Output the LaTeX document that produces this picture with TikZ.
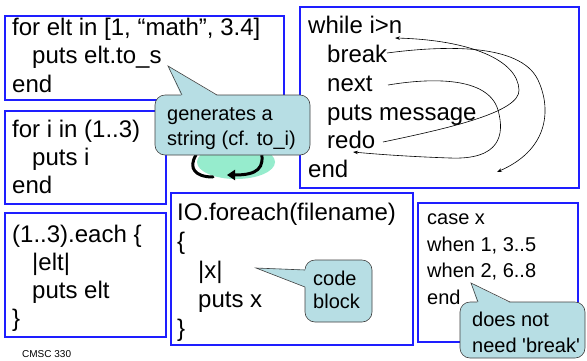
\documentclass[tikz,border=0pt]{standalone}
\usepackage{fontspec}
\newfontfamily\lsans{Liberation Sans}
\usetikzlibrary{arrows.meta}
\definecolor{boxblue}{RGB}{30,30,255}
\definecolor{callfill}{RGB}{183,222,228}
\definecolor{mint}{RGB}{150,236,205}
\tikzset{
  codebox/.style={draw=boxblue, line width=1.1pt},
  big/.style={anchor=base west, inner sep=0pt, font=\lsans\fontsize{24}{29}\selectfont},
  mid/.style={anchor=base west, inner sep=0pt, font=\lsans\fontsize{20}{24}\selectfont},
  tiny/.style={anchor=base west, inner sep=0pt, font=\lsans\fontsize{10}{12}\selectfont},
  callbody/.style={fill=callfill, draw=black!75, line width=0.6pt, rounded corners=10pt},
  callptr/.style={fill=callfill},
  calledge/.style={draw=black!75, line width=0.6pt},
  flow/.style={draw=black, line width=0.6pt, -{Stealth[length=5pt,width=3.5pt]}},
}
\begin{document}
\begin{tikzpicture}[x=1pt,y=-1pt]
\useasboundingbox (0,0) rectangle (587,360);
\fill[white] (0,0) rectangle (587,360);

% boxes
\draw[codebox] (5,16) rectangle (284,100);
\draw[codebox] (300,7) rectangle (579,188);
\draw[codebox] (5,111) rectangle (166,204);
\draw[codebox] (5,213) rectangle (166,337);
\draw[codebox] (171,193) rectangle (413,345);
\draw[codebox] (418,203) rectangle (578,342);

% box A
\node[big] (a1) at (12,35) {for elt in [1, “math”, 3.4]};
\node[big] (a2) at (32,63) {puts elt.to\_s};
\node[big] (a3) at (12,92) {end};

% box B
\node[big] (b1) at (308,33) {while i>n};
\node[big] (b2) at (327,62) {break};
\node[big] (b3) at (327,91) {next};
\node[big] (b4) at (327,120) {puts message};
\node[big] (b5) at (327,148) {redo};
\node[big] (b6) at (308,177) {end};

% box C
\node[big] (c1) at (12,137) {for i in (1..3)};
\node[big] (c2) at (32,165) {puts i};
\node[big] (c3) at (12,193) {end};

% box D
\node[big] (d1) at (12,242) {(1..3).each \{};
\node[big] (d2) at (32,270) {|elt|};
\node[big] (d3) at (32,298) {puts elt};
\node[big] (d4) at (12,326) {\}};

% box E
\node[big] (e1) at (177,220) {IO.foreach(filename)};
\node[big] (e2) at (177,249) {\{};
\node[big] (e3) at (198,278) {|x|};
\node[big] (e4) at (198,307) {puts x};
\node[big] (e5) at (177,336) {\}};

% box F
\node[mid] (f1) at (427,224) {case x};
\node[mid] (f2) at (427,251) {when 1, 3..5};
\node[mid] (f3) at (427,277) {when 2, 6..8};
\node[mid] (f4) at (427,304) {end};

% flow arrows in while box
\coordinate (redoT) at (383,142);
\coordinate (whileH) at (395,38);
\coordinate (breakT) at (387,53);
\coordinate (endH) at (497,172);
\coordinate (nextT) at (388,85);
\coordinate (redoH) at (353,152);
\draw[flow] (redoT) .. controls (450,128) and (520,112) .. (519,90)
  .. controls (518,60) and (470,40) .. (whileH);
\draw[flow] (breakT) .. controls (440,46) and (520,42) .. (538,80)
  .. controls (550,105) and (552,148) .. (endH);
\draw[flow] (nextT) .. controls (430,78) and (488,76) .. (498,110)
  .. controls (505,135) and (500,160) .. (450,158)
  .. controls (420,157) and (385,155) .. (redoH);

% loop icon
\fill[mint] (236,162) ellipse [x radius=39, y radius=17];
\draw[black, line width=3pt, line cap=round] (196,155) .. controls (188,168) and (195,177) .. (213,177);
\draw[black, line width=3pt, -{Triangle[length=8pt,width=10pt]}] (261,150) .. controls (265,168) and (258,175) .. (227,175);

% callout 1
\draw[callbody] (155,95) rectangle (310,155);
\fill[callptr] (181.5,96.2) -- (168,66) -- (218,96.2) -- cycle;
\draw[calledge] (182,95) -- (168,66) -- (217,95);
\node[mid] (g1) at (167,120) {generates a};
\node[mid] (g2) at (167,145) {string (cf. to\_i)};

% callout 2
\draw[callbody] (305,260) rectangle (372,322);
\fill[callptr] (306.2,269.5) -- (256,268) -- (306.2,287.5) -- cycle;
\draw[calledge] (305,270) -- (256,268) -- (305,287);
\node[mid] (k1) at (313,285) {code};
\node[mid] (k2) at (313,308) {block};

% callout 3
\draw[callbody] (460,302) rectangle (585,358);
\fill[callptr] (477.5,303.2) -- (471,283) -- (510.5,303.2) -- cycle;
\draw[calledge] (478,302) -- (471,283) -- (510,302);
\node[mid] (n1) at (472,326) {does not};
\node[mid] (n2) at (472,352) {need 'break'};

% footer
\node[tiny] (foot) at (22,357) {CMSC 330};
\end{tikzpicture}
\end{document}
